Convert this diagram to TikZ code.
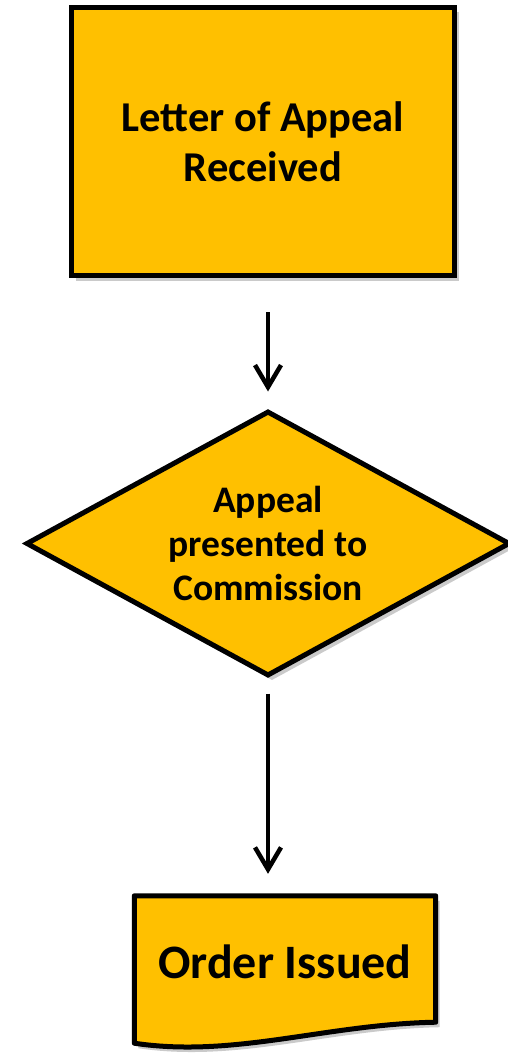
\documentclass[tikz,border=0pt]{standalone}
\usepackage{fontspec}
\setmainfont{Carlito}
\usetikzlibrary{shapes.geometric,arrows.meta,shadows,calc}
\definecolor{gold}{HTML}{FFC000}
\begin{document}
\begin{tikzpicture}[x=1pt,y=-1pt,
				every node/.style={font=\bfseries,align=center,inner sep=0pt},
				boxshade/.style={drop shadow={shadow xshift=4pt,shadow yshift=-5pt,opacity=0.35,fill=black!60}},
				stepbox/.style={rectangle,draw,fill=gold,line width=5pt,boxshade},
				choice/.style={diamond,aspect=1.83,draw,fill=gold,line width=5pt,boxshade},
				flow/.style={line width=4.5pt,-{Straight Barb[length=22pt,width=26pt,line width=4.5pt]}}]
\useasboundingbox (0,0) rectangle (507,1057);
\node[stepbox,minimum width=383pt,minimum height=268pt,font=\bfseries\fontsize{42.5}{50}\selectfont] (letter) at (263,141.5) {Letter of Appeal\\Received};
\node[choice,minimum width=484pt,minimum height=265pt,font=\bfseries\fontsize{37.5}{44}\selectfont] (appeal) at (268,543.5) {Appeal\\presented to\\Commission};
\node[minimum width=301pt,minimum height=132pt,font=\bfseries\fontsize{48}{54}\selectfont] (order) at (285,962) {};
\draw[fill=gold,line width=5pt,line join=round,boxshade]
	(order.north west) -- (order.north east) -- ([yshift=6pt]order.south east)
	.. controls ($(order.south east)+(-110,-4)$) and ($(order.south west)+(100,30)$) .. ([yshift=-15pt]order.south west) -- cycle;
\node[font=\bfseries\fontsize{48}{54}\selectfont] at (order) {Order Issued};
\draw[flow,shorten <=34pt,shorten >=17pt] (letter.south -| appeal.north) -- (appeal.north);
\draw[flow,shorten <=15pt,shorten >=22pt] (appeal.south) -- (order.north -| appeal.south);
\end{tikzpicture}
\end{document}
